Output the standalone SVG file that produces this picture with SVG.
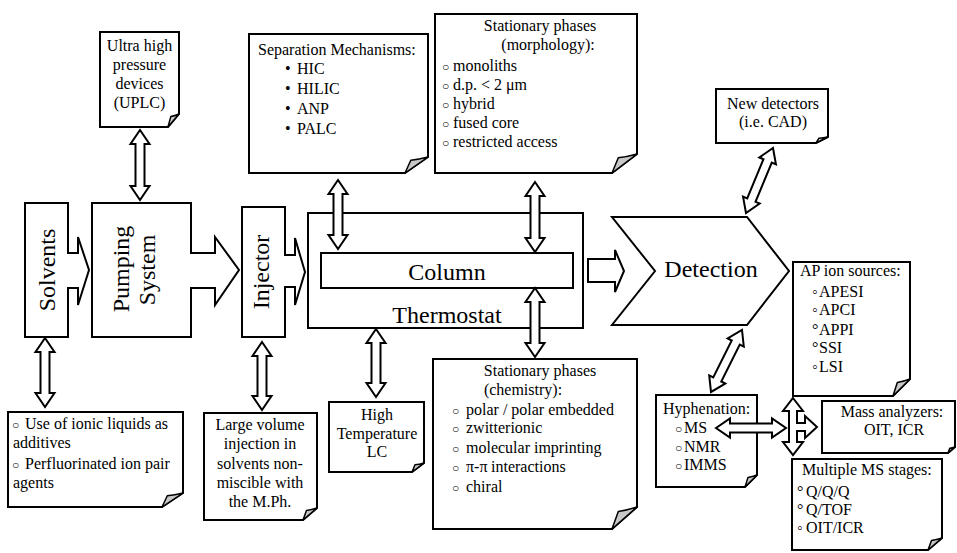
<svg xmlns="http://www.w3.org/2000/svg" width="957" height="553" viewBox="0 0 957 553">
<style>
.box{fill:#fff;stroke:#000;stroke-width:2;stroke-linejoin:miter}
.fold{fill:#c8c8c8;stroke:#000;stroke-width:1.5;stroke-linejoin:round}
.arr{fill:#fff;stroke:#000;stroke-width:2;stroke-linejoin:miter}
text{font-family:"Liberation Serif","Times New Roman","DejaVu Serif",serif;fill:#000;font-size:16px}
.t24{font-size:24px}
.c{text-anchor:middle}
.o{font-size:12px}
</style>
<rect width="957" height="553" fill="#fff"/>

<g id="solvents">
<polygon class="box" points="25,203 68,203 68,253 78,253 78,237 89,270 78,305 78,288 68,288 68,337 25,337"/>
<text class="t24 c" transform="translate(55,270) rotate(-90)">Solvents</text>
</g>
<g id="pumping">
<polygon class="box" points="92,203 191,203 191,253 215,253 215,237 239,270 215,305 215,288 191,288 191,337 92,337"/>
<text class="t24 c" transform="translate(129,269) rotate(-90)">Pumping</text>
<text class="t24 c" transform="translate(155,270) rotate(-90)">System</text>
</g>
<g id="injector">
<polygon class="box" points="242,207 285,207 285,255 295,255 295,238 305,272 295,305 295,287 285,287 285,337 242,337"/>
<text class="t24 c" transform="translate(269,272) rotate(-90)">Injector</text>
</g>
<g id="thermostat">
<rect class="box" x="308" y="213" width="275" height="115"/>
<text class="t24 c" x="447" y="323">Thermostat</text>
</g>
<g id="column">
<rect class="box" x="321" y="253" width="252" height="35"/>
<text class="t24 c" x="447" y="280">Column</text>
</g>
<g id="detection">
<polygon class="box" points="612,217 747,217 789,271 747,325 612,325 655,271"/>
<text class="t24 c" x="711" y="277">Detection</text>
</g>

<g id="uplc">
<polygon class="box" points="100,32 179,32 179,114 168,127 100,127"/>
<path class="fold" d="M168,127 L170.8,116.6 Q174.6,116 179,114 Z"/>
<text class="c" x="139.5" y="51">Ultra high</text>
<text class="c" x="139.5" y="70">pressure</text>
<text class="c" x="139.5" y="89">devices</text>
<text class="c" x="139.5" y="108">(UPLC)</text>
</g>
<g id="separation">
<polygon class="box" points="249,34 428,34 428,157 405,173 249,173"/>
<path class="fold" d="M405,173 L410.8,160.2 Q418.8,159.4 428,157 Z"/>
<text x="258" y="55">Separation Mechanisms:</text>
<text x="285" y="74">•</text><text x="297" y="74">HIC</text>
<text x="285" y="94">•</text><text x="297" y="94">HILIC</text>
<text x="285" y="114">•</text><text x="297" y="114">ANP</text>
<text x="285" y="134">•</text><text x="297" y="134">PALC</text>
</g>
<g id="morphology">
<polygon class="box" points="435,14 637,14 637,154 612,173 435,173"/>
<path class="fold" d="M612,173 L618.3,157.8 Q627,156.9 637,154 Z"/>
<text class="c" x="540" y="31">Stationary phases</text>
<text class="c" x="548" y="50">(morphology):</text>
<text class="o" x="442" y="71">○</text><text x="453" y="71">monoliths</text>
<text class="o" x="442" y="90">○</text><text x="453" y="90">d.p. &lt; 2 μm</text>
<text class="o" x="442" y="109">○</text><text x="453" y="109">hybrid</text>
<text class="o" x="442" y="128">○</text><text x="453" y="128">fused core</text>
<text class="o" x="442" y="147">○</text><text x="453" y="147">restricted access</text>
</g>
<g id="newdetectors">
<polygon class="box" points="716,89 828,89 828,137 816,143 716,143"/>
<path class="fold" d="M816,143 L819,138.2 Q823.2,137.9 828,137 Z"/>
<text class="c" x="773" y="109">New detectors</text>
<text class="c" x="773" y="127">(i.e. CAD)</text>
</g>
<g id="additives">
<polygon class="box" points="8,412 183,412 183,493 162,507 8,507"/>
<path class="fold" d="M162,507 L167.3,495.8 Q174.6,495.1 183,493 Z"/>
<text class="o" x="12" y="429">○</text><text x="25" y="429">Use of ionic liquids as</text>
<text x="13" y="448">additives</text>
<text class="o" x="12" y="469">○</text><text x="25" y="469">Perfluorinated ion pair</text>
<text x="13" y="488">agents</text>
</g>
<g id="largevolume">
<polygon class="box" points="204,413 317,413 317,508 303,520 204,520"/>
<path class="fold" d="M303,520 L306.5,510.4 Q311.4,509.8 317,508 Z"/>
<text class="c" x="260" y="430">Large volume</text>
<text class="c" x="260" y="449">injection in</text>
<text class="c" x="260" y="469">solvents non-</text>
<text class="c" x="260" y="488">miscible with</text>
<text class="c" x="260" y="507">the M.Ph.</text>
</g>
<g id="hightemp">
<polygon class="box" points="329,402 424,402 424,463 412,472 329,472"/>
<path class="fold" d="M412,472 L415,464.8 Q419.2,464.4 424,463 Z"/>
<text class="c" x="377" y="420">High</text>
<text class="c" x="377" y="439">Temperature</text>
<text class="c" x="377" y="457">LC</text>
</g>
<g id="chemistry">
<polygon class="box" points="433,359 637,359 637,507 612,529 433,529"/>
<path class="fold" d="M612,529 L618.3,511.4 Q627,510.3 637,507 Z"/>
<text class="c" x="540" y="376">Stationary phases</text>
<text class="c" x="523" y="395">(chemistry):</text>
<text class="o" x="452" y="415">○</text><text x="466" y="415">polar / polar embedded</text>
<text class="o" x="452" y="433">○</text><text x="466" y="433">zwitterionic</text>
<text class="o" x="452" y="453">○</text><text x="466" y="453">molecular imprinting</text>
<text class="o" x="452" y="472">○</text><text x="466" y="472">π-π</text><text x="491" y="472">interactions</text>
<text class="o" x="452" y="492">○</text><text x="466" y="492">chiral</text>
</g>
<g id="hyphenation">
<polygon class="box" points="656,395 757,395 757,475 745,487 656,487"/>
<path class="fold" d="M745,487 L748,477.4 Q752.2,476.8 757,475 Z"/>
<text x="663" y="414">Hyphenation:</text>
<text class="o" x="675" y="433">○</text><text x="684" y="433">MS</text>
<text class="o" x="675" y="452">○</text><text x="684" y="452">NMR</text>
<text class="o" x="675" y="470">○</text><text x="684" y="470">IMMS</text>
</g>
<g id="apsources">
<polygon class="box" points="793,262 910,262 910,379 893,396 793,396"/>
<path class="fold" d="M893,396 L897.3,382.4 Q903.2,381.6 910,379 Z"/>
<text x="800" y="276">AP ion sources:</text>
<text x="812" y="297">◦</text><text x="819" y="297">APESI</text>
<text x="812" y="315">◦</text><text x="819" y="315">APCI</text>
<text x="812" y="335">°</text><text x="819" y="335">APPI</text>
<text x="812" y="353">°</text><text x="819" y="353">SSI</text>
<text x="812" y="372">◦</text><text x="819" y="372">LSI</text>
</g>
<g id="massanalyzers">
<polygon class="box" points="822,401 955,401 955,447 948,453 822,453"/>
<path class="fold" d="M948,453 L949.8,448.2 Q952.2,447.9 955,447 Z"/>
<text class="c" x="892" y="417">Mass analyzers:</text>
<text class="c" x="894" y="435">OIT, ICR</text>
</g>
<g id="multiplems">
<polygon class="box" points="792,459 942,459 942,538 928,550 792,550"/>
<path class="fold" d="M928,550 L931.5,540.4 Q936.4,539.8 942,538 Z"/>
<text x="802" y="475">Multiple MS stages:</text>
<text x="797" y="497">°</text><text x="806" y="497">Q/Q/Q</text>
<text x="797" y="515">°</text><text x="806" y="515">Q/TOF</text>
<text x="797" y="533">◦</text><text x="806" y="533">OIT/ICR</text>
</g>

<g id="connectors">
<polygon class="arr" points="140,130 149.5,144 144.5,144 144.5,186 149.5,186 140,200 130.5,186 135.5,186 135.5,144 130.5,144"/>
<polygon class="arr" points="45,338 54.5,352 49.5,352 49.5,393 54.5,393 45,407 35.5,393 40.5,393 40.5,352 35.5,352"/>
<polygon class="arr" points="262,342 271.5,356 266.5,356 266.5,396 271.5,396 262,410 252.5,396 257.5,396 257.5,356 252.5,356"/>
<polygon class="arr" points="338,180 347.5,194 342.5,194 342.5,235 347.5,235 338,249 328.5,235 333.5,235 333.5,194 328.5,194"/>
<polygon class="arr" points="535,182 544.5,196 539.5,196 539.5,238 544.5,238 535,252 525.5,238 530.5,238 530.5,196 525.5,196"/>
<polygon class="arr" points="535,288 544.5,302 539.5,302 539.5,343 544.5,343 535,357 525.5,343 530.5,343 530.5,302 525.5,302"/>
<polygon class="arr" points="376,329 385.5,343 380.5,343 380.5,383 385.5,383 376,397 366.5,383 371.5,383 371.5,343 366.5,343"/>
<polygon class="arr" points="588,259 615,259 615,250 624,271 615,292 615,282 588,282"/>
<polygon class="arr" transform="translate(773,148) rotate(112.56)" points="0,0 14,-9 14,-4.5 56.4,-4.5 56.4,-9 70.4,0 56.4,9 56.4,4.5 14,4.5 14,9"/>
<polygon class="arr" transform="translate(742,330) rotate(116.57)" points="0,0 14,-9 14,-4.5 55.3,-4.5 55.3,-9 69.3,0 55.3,9 55.3,4.5 14,4.5 14,9"/>
<polygon class="arr" points="716,428 730,418.5 730,423.5 772,423.5 772,418.5 786,428 772,437.5 772,432.5 730,432.5 730,437.5"/>
<polygon class="arr" points="793,398 803,411 797,411 797,423 805,423 805,416 817,427 805,438 805,431 797,431 797,442 803,442 793,455 783,442 789,442 789,411 783,411"/>
</g>
</svg>
